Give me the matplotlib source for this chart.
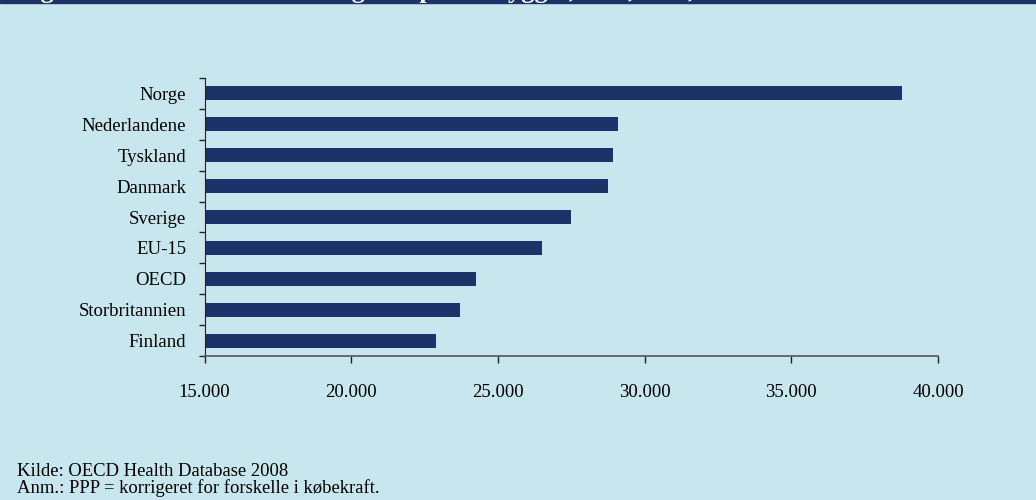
import matplotlib
matplotlib.use("Agg")
import matplotlib.pyplot as plt
import numpy as np
from matplotlib.ticker import FuncFormatter

# Health expenditure per inhabitant (PPP)
countries = ["Norge", "Nederlandene", "Tyskland", "Danmark", "Sverige",
             "EU-15", "OECD", "Storbritannien", "Finland"]
values = [38790, 29080, 28910, 28750, 27480, 26490, 24250, 23700, 22890]
xticks = [15000, 20000, 25000, 30000, 35000, 40000]

bg = "#C8E6EE"
navy = "#1D3268"

plt.rcParams["font.family"] = ["Liberation Serif", "DejaVu Serif"]

fig = plt.figure(figsize=(10.36, 5.0), dpi=100, facecolor=bg)
ax = fig.add_axes([0.1974, 0.288, 0.708, 0.556], facecolor=bg)

n = len(countries)
pos = np.arange(n)[::-1]
ax.barh(pos, np.array(values) - xticks[0], left=xticks[0], height=0.45,
        color=navy, edgecolor="none")

ax.set_xlim(xticks[0], xticks[-1])
ax.set_ylim(-0.5, n - 0.5)
ax.set_xticks(xticks)
ax.xaxis.set_major_formatter(FuncFormatter(lambda v, p: f"{int(v):,}".replace(",", ".")))
ax.set_yticks(pos)
ax.set_yticklabels(countries)
ax.set_yticks(np.arange(-0.5, n, 1.0), minor=True)

ax.tick_params(axis="y", which="major", length=0, pad=13, labelsize=13.5)
ax.tick_params(axis="y", which="minor", length=4, width=1, direction="out", color="#222222")
ax.tick_params(axis="x", which="major", length=5, width=1, direction="out",
               color="#222222", pad=15, labelsize=13.5)

for s in ["top", "right"]:
    ax.spines[s].set_visible(False)
ax.spines["left"].set_color("#222222")
ax.spines["bottom"].set_color("#555555")
ax.spines["bottom"].set_linewidth(1.2)

# Title band at the top of the figure (text runs off the top edge)
fig.patches.append(plt.Rectangle((0, 0.9935), 1, 0.0065, transform=fig.transFigure,
                                 color=navy, zorder=0))
fig.text(0.0165, 1.004, "Figur 1: Samlede sundhedsudgifter pr. indbygger, PPP, US$, 2006",
         color="white", fontsize=19, fontweight="bold", va="baseline", ha="left")

fig.text(0.0165, 0.048, "Kilde: OECD Health Database 2008", fontsize=13.4, va="baseline")
fig.text(0.0165, 0.014, "Anm.: PPP = korrigeret for forskelle i købekraft.", fontsize=13.4,
         va="baseline")

fig.savefig("out.png", dpi=100, facecolor=bg)
